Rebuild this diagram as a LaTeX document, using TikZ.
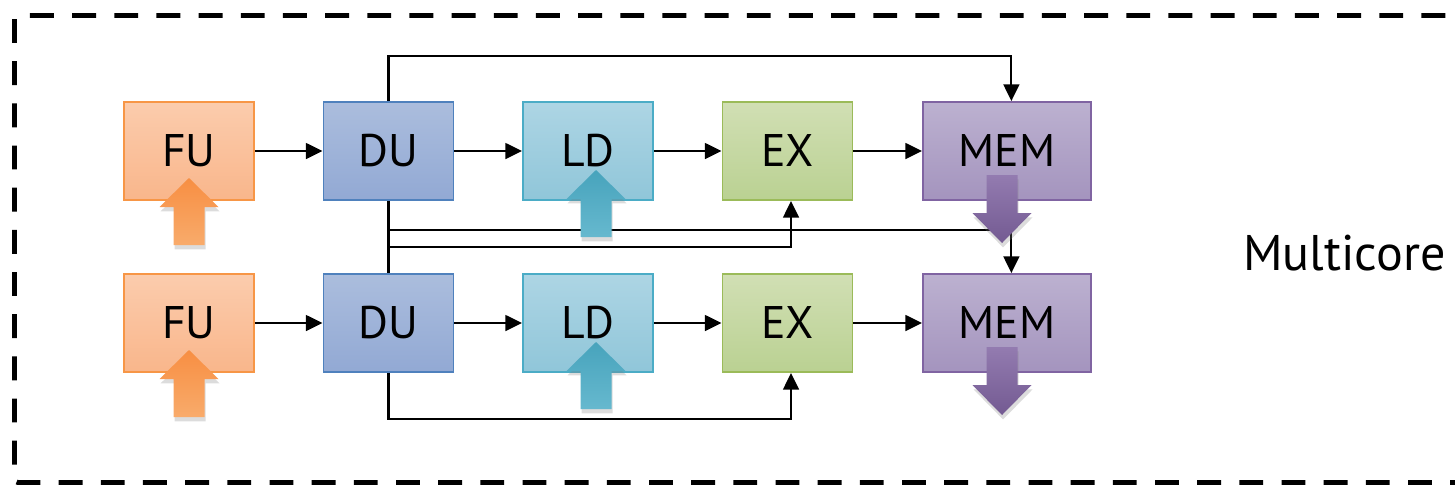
\documentclass[tikz,border=0pt]{standalone}
\usepackage{fontspec}
\setmainfont{PT Sans}
\usetikzlibrary{arrows.meta, shadows}

\definecolor{fuTop}{HTML}{FBCCAD}
\definecolor{fuBot}{HTML}{F9B68B}
\definecolor{fuLine}{HTML}{F79646}
\definecolor{duTop}{HTML}{ABBDDD}
\definecolor{duBot}{HTML}{92A9D4}
\definecolor{duLine}{HTML}{4F81BD}
\definecolor{ldTop}{HTML}{ADD5E4}
\definecolor{ldBot}{HTML}{90C6D9}
\definecolor{ldLine}{HTML}{4BACC6}
\definecolor{exTop}{HTML}{D1DFB4}
\definecolor{exBot}{HTML}{BAD192}
\definecolor{exLine}{HTML}{9BBB59}
\definecolor{memTop}{HTML}{BCB1D0}
\definecolor{memBot}{HTML}{A494BE}
\definecolor{memLine}{HTML}{8064A2}

\begin{document}
\begin{tikzpicture}[x=0.02cm, y=-0.02cm,
  stage/.style={draw, line width=1.1pt, minimum width=2.6cm, minimum height=1.96cm,
    inner sep=0pt, font=\fontsize{26}{31}\selectfont},
  fu/.style={stage, draw=fuLine, top color=fuTop, bottom color=fuBot},
  du/.style={stage, draw=duLine, top color=duTop, bottom color=duBot},
  ld/.style={stage, draw=ldLine, top color=ldTop, bottom color=ldBot},
  ex/.style={stage, draw=exLine, top color=exTop, bottom color=exBot},
  mem/.style={stage, draw=memLine, top color=memTop, bottom color=memBot, minimum width=3.36cm},
  conn/.style={line width=1.2pt, -{Triangle[length=9.5pt, width=9pt]}},
  wire/.style={line width=1.2pt},
  blockshadow/.style={drop shadow={shadow xshift=0.6pt, shadow yshift=-2.5pt, opacity=.28}}]

% GLOBAL SETTINGS
\newcommand{\blockup}[4]{% x, tip y, top colour, bottom colour
\path[blockshadow, top color=#3, bottom color=#4]
(#1,#2) -- ({#1+29.5},{#2+29}) -- ({#1+15.5},{#2+29}) -- ({#1+15.5},{#2+67})
-- ({#1-15.5},{#2+67}) -- ({#1-15.5},{#2+29}) -- ({#1-29.5},{#2+29}) -- cycle;
}
\newcommand{\blockdown}[4]{% x, top y, top colour, bottom colour
\path[blockshadow, top color=#3, bottom color=#4]
({#1-15.5},#2) -- ({#1+15.5},#2) -- ({#1+15.5},{#2+38}) -- ({#1+29.5},{#2+38})
-- (#1,{#2+68}) -- ({#1-29.5},{#2+38}) -- ({#1-15.5},{#2+38}) -- cycle;
}

\clip (0,0) rectangle (1455,485);

% FRAME
\draw[line width=2.8pt, dash pattern=on 13.6pt off 10.4pt, rounded corners=2pt]
(14.5,15.5) rectangle (1490,482.5);
\node[font=\fontsize{28.5}{34}\selectfont, anchor=west, inner sep=0pt] (multi) at (1243,253) {Multicore};

% STAGES
\foreach \r/\y in {1/151, 2/323} {
\node[fu] (FU\r) at (189,\y) {FU};
\node[du] (DU\r) at (388.5,\y) {DU};
\node[ld] (LD\r) at (588,\y) {LD};
\node[ex] (EX\r) at (787.5,\y) {EX};
\node[mem] (MEM\r) at (1007,\y) {MEM};
}

% EDGES
\foreach \r in {1,2} {
\draw[conn] (FU\r) -- (DU\r);
\draw[conn] (DU\r) -- (LD\r);
\draw[conn] (LD\r) -- (EX\r);
\draw[conn] (EX\r) -- (MEM\r);
}
\path (DU1.south) ++(0,29) coordinate (busA) ++(0,17) coordinate (busB);
\draw[conn] (DU1.north) -- ++(0,-45) -| ([xshift=2.5]MEM1.north);
\draw[wire] (DU1.south) -- (DU2.north);
\draw[conn] (busA) -| ([xshift=2.5]MEM2.north);
\draw[conn] (busB) -| ([xshift=2]EX1.south);
\draw[conn] (DU2.south) -- ++(0,46) -| ([xshift=2]EX2.south);

% BLOCK ARROWS
\foreach \y in {0,172} {
\blockup{189}{178+\y}{fuLine!95!red}{fuLine!80!white}
\blockup{596}{170+\y}{ldLine!95!black}{ldLine!85!white}
\blockdown{1002}{175+\y}{memLine!85!white}{memLine!90!black}
}

\end{tikzpicture}
\end{document}
